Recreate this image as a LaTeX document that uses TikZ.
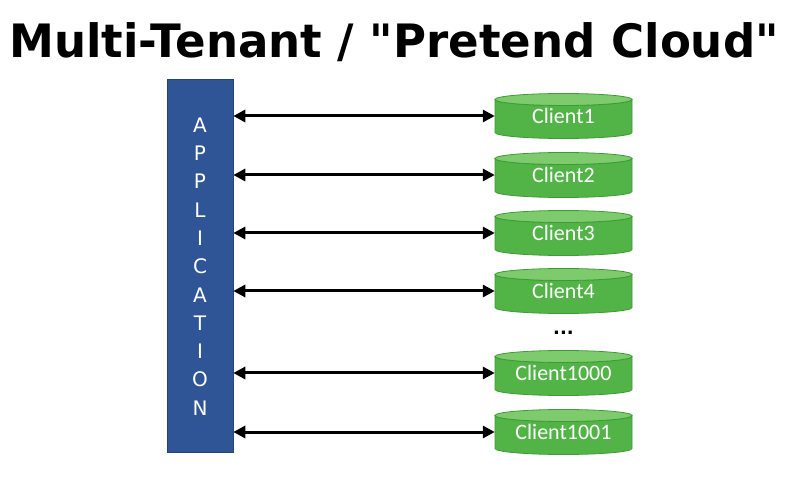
\documentclass[tikz,border=0pt]{standalone}
\usepackage{fontspec}
\setmainfont{DejaVu Sans}
\newfontfamily\titlefont{DejaVu Sans}
\newfontfamily\labelfont{Carlito}
\usetikzlibrary{arrows.meta}
\definecolor{appblue}{HTML}{2F5597}
\definecolor{dbbody}{HTML}{52B447}
\definecolor{dbtop}{HTML}{7DCB6D}
\definecolor{dbedge}{HTML}{3E9A36}
\tikzset{
  appbox/.style={fill=appblue, draw=appblue!80!black, line width=0.6pt},
  appletter/.style={text=white, font=\fontsize{20}{20}\selectfont},
  dbbodyfill/.style={fill=dbbody, draw=dbedge, line width=0.8pt},
  dbtopfill/.style={fill=dbtop, draw=dbedge, line width=0.8pt},
  client/.style={minimum width=137pt, minimum height=45pt, inner sep=0pt,
    text=white, font=\labelfont\fontsize{22}{22}\selectfont},
  link/.style={{Triangle[length=12pt,width=12pt]}-{Triangle[length=12pt,width=12pt]},
    line width=3pt, black},
}
\begin{document}
\begin{tikzpicture}[x=1pt,y=1pt]
\useasboundingbox (0,0) rectangle (790,485);
% title
\node[font=\titlefont\bfseries\fontsize{46}{46}\selectfont, anchor=base] (title) at (394,427)
  {\scalebox{0.98}[1]{Multi-Tenant / "Pretend Cloud"}};
% application column
\node[appbox, minimum width=66pt, minimum height=373pt, inner sep=0pt] (app) at (200,219.5) {};
\foreach \l [count=\i] in {A,P,P,L,I,C,A,T,I,O,N}
  \node[appletter] (letter\i) at (200,{360-(\i-1)*28.3}) {\l};
% client databases
\foreach \n/\y/\t in {c1/369/Client1, c2/310/Client2, c3/252/Client3, c4/194/Client4,
                      c1000/112/Client1000, c1001/53/Client1001}{
  \coordinate (\n-axis) at (563.5,\y);
  \draw[dbbodyfill] (\n-axis) ++(-68.5,16.5) -- ++(0,-33)
    arc[start angle=180, end angle=360, x radius=68.5, y radius=6]
    -- ++(0,33)
    arc[start angle=0, end angle=-180, x radius=68.5, y radius=6] -- cycle;
  \draw[dbtopfill] (\n-axis) ++(0,16.5) ellipse[x radius=68.5, y radius=6];
  \node[client] (\n) at (\n-axis) {\raisebox{-4pt}{\t}};
  \draw[link] (app.east |- \n) -- (\n.west);
}
\node[font=\bfseries\fontsize{18}{18}\selectfont] (dots) at (563.5,152) {...};
\end{tikzpicture}
\end{document}
